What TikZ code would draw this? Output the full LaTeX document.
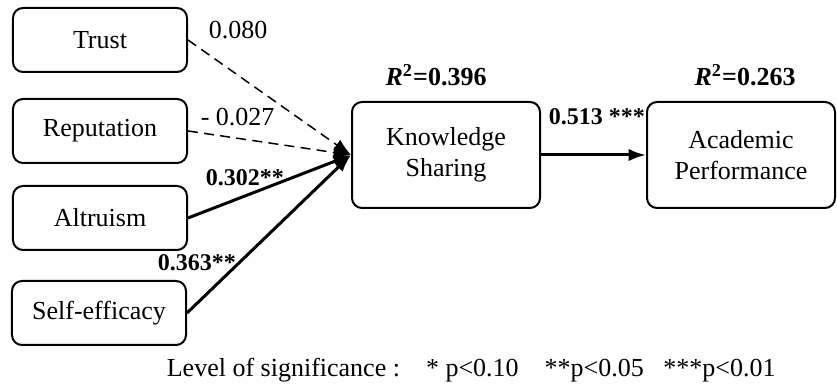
\documentclass[tikz,border=0pt]{standalone}
\usepackage{fontspec}
\setmainfont{Liberation Serif}
\usetikzlibrary{arrows.meta}
\tikzset{
  box/.style={draw, thick, rounded corners=4pt, minimum width=69.6pt, minimum height=25.6pt, align=center},
  bigbox/.style={box, minimum width=75.2pt, minimum height=42.4pt},
  strong/.style={-{Latex[length=7pt,width=5pt]}, line width=1.2pt},
  weak/.style={-{Latex[length=7pt,width=5pt]}, dash pattern=on 4pt off 2.5pt, line width=0.6pt},
  coef/.style={anchor=west, font=\fontsize{9.6}{11.5}\selectfont\bfseries}
}
\begin{document}
\begin{tikzpicture}[x=0.4pt,y=-0.4pt,font=\fontsize{10.4}{12.5}\selectfont]
\useasboundingbox (0,0) rectangle (837,390);
\node[box] (trust) at (100,40) {Trust};
\node[box] (rep) at (100,131) {Reputation};
\node[box] (alt) at (100,218) {Altruism};
\node[box] (self) at (99,313) {Self-efficacy};
\node[bigbox] (ks) at (446,155) {Knowledge\\Sharing};
\node[bigbox] (ap) at (741,155) {Academic\\Performance};
\draw[weak] (trust.east)--(ks.west);
\draw[weak] (rep.east)--(ks.west);
\draw[strong] (alt.east)--(ks.west);
\draw[strong] (self.east)--(ks.west);
\draw[strong] (ks.east)--(ap.west);
\node[anchor=west] (l1) at (200,30) {0.080};
\node[anchor=west] (l2) at (192,117) {- 0.027};
\node[coef] (l3) at (197,178) {0.302**};
\node[coef] (l4) at (149,263) {0.363**};
\node[coef] (l5) at (540,117) {0.513 ***};
\node (r1) at (436,75) {\textbf{\textit{R}\textsuperscript{2}=0.396}};
\node (r2) at (745,75) {\textbf{\textit{R}\textsuperscript{2}=0.263}};
\node[anchor=west] (sig) at (158,370) {Level of significance :\quad * p<0.10\ \ \ \ **p<0.05\ \ \ ***p<0.01};
\end{tikzpicture}
\end{document}
